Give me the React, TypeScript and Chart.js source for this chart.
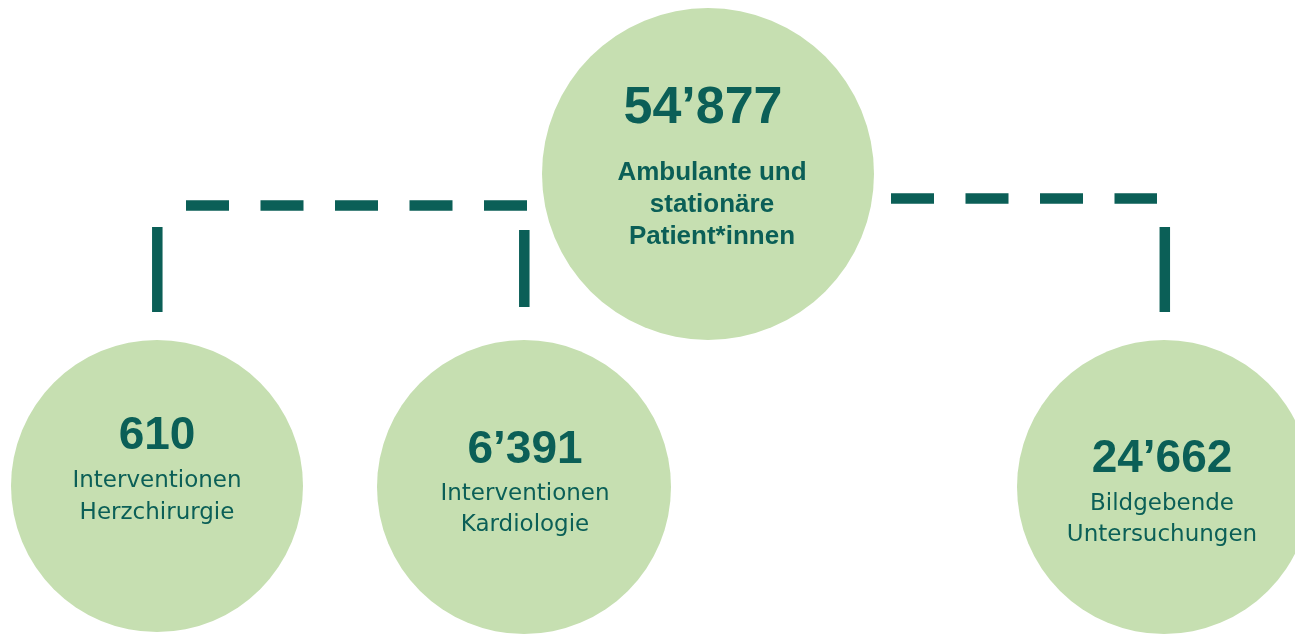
import React, { useEffect, useRef } from "react";
import { Chart, registerables } from "chart.js";

Chart.register(...registerables);

// ---- Data ----
const categories: string[][] = [
  ["Ambulante und", "stationäre", "Patient*innen"],
  ["Interventionen", "Herzchirurgie"],
  ["Interventionen", "Kardiologie"],
  ["Bildgebende", "Untersuchungen"],
];
const values: number[] = [54877, 610, 6391, 24662];

// ---- Layout (canvas-unit coordinates on the hidden axes) ----
const W = 1295;
const H = 634;
const nodeX = [708, 157, 524, 1164];
const nodeY = [174, 486, 487, 487];
const nodeR = [166, 146, 147, 147];
const numberX = [703, 157, 525, 1162];
const numberBase = [123, 449, 463, 472];
const labelX = [712, 157, 525, 1162];
const labelBase = [180, 487, 500, 510];
const labelStep = [32, 32, 31, 31];
const numberSize = [52, 46, 46, 46];
const labelBold = [true, false, false, false];

// connector segments: [x1, y1, x2, y2, dashed]
const connectors: [number, number, number, number, boolean][] = [
  [186, 205.5, 527, 205.5, true],
  [891, 198.5, 1157, 198.5, true],
  [157.3, 227, 157.3, 312, false],
  [524.3, 230, 524.3, 307, false],
  [1164.8, 227, 1164.8, 312, false],
];

const DARK = "#0b5f57";
const LIGHT = "#c6dfb1";

function fmt(v: number): string {
  const s = String(v);
  return s.replace(/\B(?=(\d{3})+(?!\d))/g, "\u2019");
}

export default function App() {
  const ref = useRef<HTMLCanvasElement | null>(null);
  useEffect(() => {
    document.body.style.margin = "0";
    const canvas = ref.current;
    if (!canvas) return;

    const textPlugin = {
      id: "nodeText",
      afterDatasetsDraw(chart: any) {
        const ctx = chart.ctx;
        const xs = chart.scales.x;
        const ys = chart.scales.y;
        ctx.save();
        ctx.fillStyle = DARK;
        ctx.textAlign = "center";
        ctx.textBaseline = "alphabetic";
        values.forEach((v, i) => {
          ctx.font = `bold ${numberSize[i]}px "Liberation Sans", Arial, sans-serif`;
          ctx.fillText(fmt(v), xs.getPixelForValue(numberX[i]), ys.getPixelForValue(numberBase[i]));
          ctx.font = labelBold[i]
            ? `bold 26px "Liberation Sans", Arial, sans-serif`
            : `23px "DejaVu Sans", sans-serif`;
          categories[i].forEach((line, j) => {
            ctx.fillText(
              line,
              xs.getPixelForValue(labelX[i]),
              ys.getPixelForValue(labelBase[i] + j * labelStep[i])
            );
          });
        });
        ctx.restore();
      },
    };

    const lineSets = connectors.map(([x1, y1, x2, y2, dashed]) => ({
      type: "line" as const,
      data: [
        { x: x1, y: y1 },
        { x: x2, y: y2 },
      ],
      borderColor: DARK,
      borderWidth: 10.5,
      borderDash: dashed ? [43, 31.5] : [],
      borderCapStyle: "butt" as const,
      pointRadius: 0,
      pointHoverRadius: 0,
      fill: false,
      tension: 0,
      clip: false as any,
    }));

    const chart = new Chart(canvas, {
      type: "bubble",
      data: {
        datasets: [
          {
            type: "bubble",
            data: values.map((v, i) => ({ x: nodeX[i], y: nodeY[i], r: nodeR[i], v })),
            backgroundColor: LIGHT,
            borderWidth: 0,
            hoverRadius: 0,
            hoverBorderWidth: 0,
            clip: false as any,
          } as any,
          ...lineSets,
        ],
      },
      options: {
        animation: false,
        responsive: false,
        maintainAspectRatio: false,
        layout: { padding: 0, autoPadding: false } as any,
        events: [],
        plugins: {
          legend: { display: false },
          tooltip: { enabled: false },
          title: { display: false },
        },
        scales: {
          x: { type: "linear", min: 0, max: W, display: false },
          y: { type: "linear", min: 0, max: H, reverse: true, display: false },
        },
      },
      plugins: [textPlugin],
    });
    return () => chart.destroy();
  }, []);

  return (
    <div style={{ width: W, height: H, background: "#ffffff" }}>
      <canvas ref={ref} width={W} height={H} style={{ display: "block" }} />
    </div>
  );
}
